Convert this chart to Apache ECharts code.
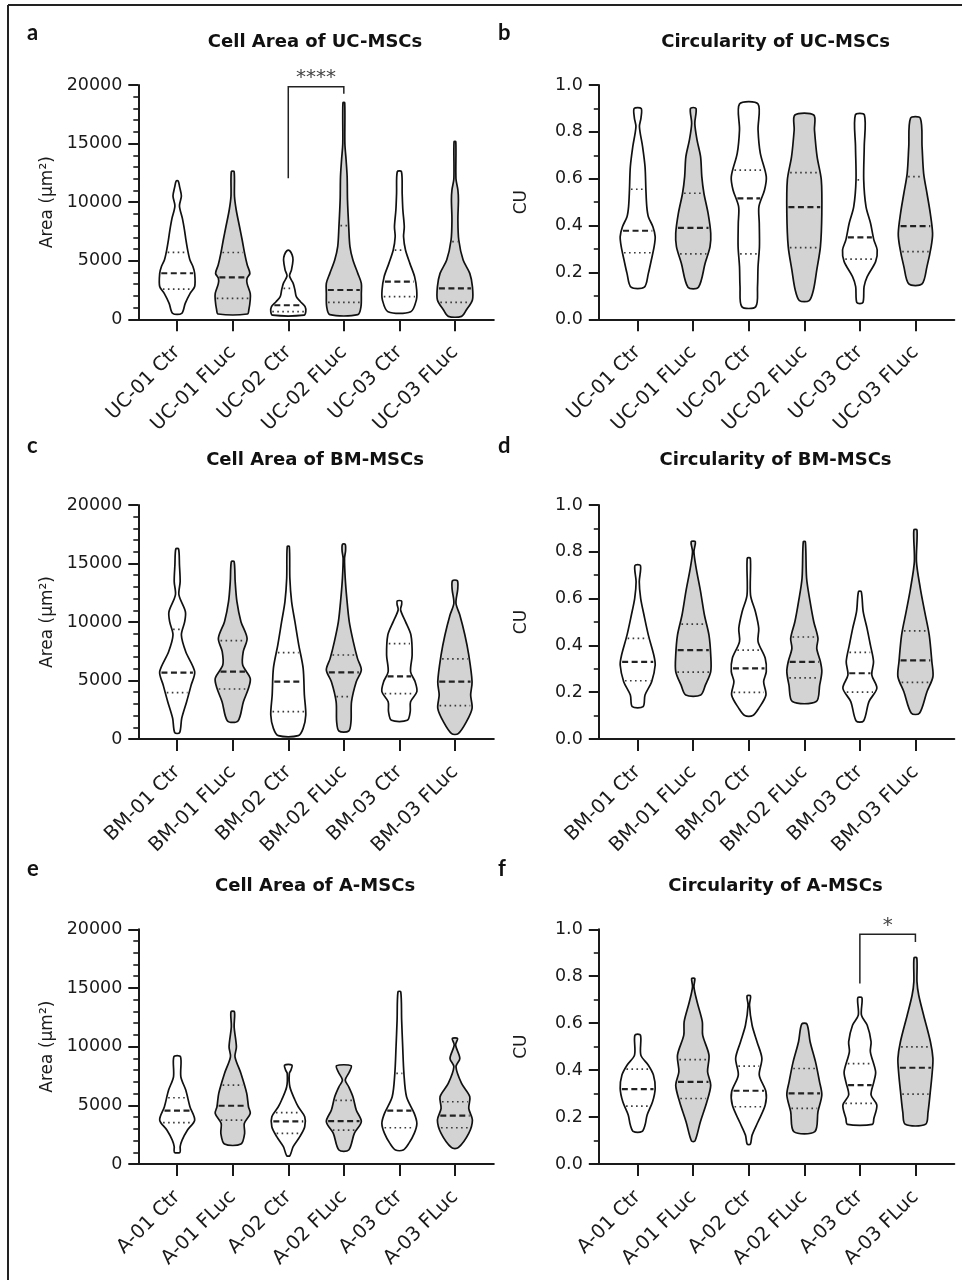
<!DOCTYPE html>
<html><head><meta charset="utf-8">
<script src="https://cdn.jsdelivr.net/npm/echarts@6/dist/echarts.min.js"></script>
<style>html,body{margin:0;padding:0;background:#fff}#c{width:962px;height:1280px}</style>
</head><body><div id="c"></div>
<script>
// ---------------- categories ----------------
const catsUC = ['UC-01 Ctr','UC-01 FLuc','UC-02 Ctr','UC-02 FLuc','UC-03 Ctr','UC-03 FLuc'];
const catsBM = ['BM-01 Ctr','BM-01 FLuc','BM-02 Ctr','BM-02 FLuc','BM-03 Ctr','BM-03 FLuc'];
const catsA  = ['A-01 Ctr','A-01 FLuc','A-02 Ctr','A-02 FLuc','A-03 Ctr','A-03 FLuc'];

// ---------------- violin profiles: [value, relative density width] min -> max ----------------
const ucAreaProfiles = [
  [[510,0.26],[1360,0.46],[2215,0.74],[2800,1.0],[3900,1.0],[4500,0.9],[5060,0.73],[5900,0.6],[6770,0.5],[7600,0.42],[8600,0.3],[9670,0.13],[10520,0.24],[11300,0.14],[11800,0.06]],
  [[450,0.84],[800,0.92],[1650,1.0],[2215,1.0],[3070,0.82],[3500,0.82],[3920,0.98],[4630,0.83],[5630,0.68],[6770,0.54],[7900,0.39],[9330,0.2],[10500,0.1],[12600,0.08]],
  [[350,0.9],[650,1.0],[1075,0.96],[1500,0.7],[1930,0.46],[2500,0.38],[3070,0.28],[3700,0.07],[4200,0.18],[5060,0.27],[5500,0.22],[5850,0.08]],
  [[400,0.8],[1075,0.98],[2215,1.0],[3070,1.0],[3920,0.8],[5060,0.52],[6200,0.35],[7900,0.28],[10180,0.21],[12170,0.19],[13600,0.13],[15000,0.06],[18490,0.05]],
  [[650,0.65],[1650,0.97],[2500,0.99],[3640,0.87],[4775,0.6],[5910,0.35],[7050,0.24],[7900,0.28],[9330,0.2],[10750,0.16],[12600,0.12]],
  [[250,0.38],[790,0.65],[1650,1.0],[2785,1.0],[3920,0.85],[5060,0.47],[6770,0.22],[8470,0.17],[10180,0.2],[11035,0.17],[12000,0.06],[15160,0.05]]
];
const ucAreaMedian = [3930, 3580, 1200, 2500, 3210, 2640];
const ucAreaQ1 = [2580, 1790, 650, 1445, 1930, 1450];
const ucAreaQ3 = [5715, 5700, 2640, 7990, 5910, 6625];

const ucCircProfiles = [
  [[0.137,0.38],[0.196,0.61],[0.253,0.78],[0.31,0.94],[0.353,1.0],[0.395,0.87],[0.438,0.61],[0.481,0.52],[0.552,0.47],[0.651,0.42],[0.737,0.28],[0.822,0.1],[0.86,0.19],[0.90,0.2]],
  [[0.137,0.3],[0.239,0.68],[0.31,0.96],[0.367,1.0],[0.452,0.85],[0.538,0.61],[0.609,0.49],[0.694,0.42],[0.765,0.22],[0.836,0.09],[0.90,0.16]],
  [[0.054,0.4],[0.139,0.5],[0.225,0.53],[0.31,0.61],[0.41,0.6],[0.481,0.58],[0.552,0.9],[0.609,1.0],[0.708,0.66],[0.808,0.53],[0.919,0.53]],
  [[0.08,0.28],[0.125,0.52],[0.21,0.71],[0.31,0.92],[0.452,1.0],[0.595,0.97],[0.694,0.73],[0.808,0.58],[0.872,0.54]],
  [[0.071,0.17],[0.139,0.24],[0.182,0.42],[0.246,0.9],[0.296,0.99],[0.339,0.8],[0.41,0.61],[0.481,0.35],[0.595,0.22],[0.737,0.25],[0.872,0.26]],
  [[0.151,0.38],[0.225,0.66],[0.31,0.9],[0.367,0.98],[0.452,0.85],[0.538,0.66],[0.623,0.47],[0.737,0.38],[0.858,0.28]]
];
const ucCircMedian = [0.378, 0.39, 0.516, 0.479, 0.35, 0.398];
const ucCircQ1 = [0.284, 0.279, 0.279, 0.306, 0.257, 0.289];
const ucCircQ3 = [0.555, 0.538, 0.637, 0.626, 0.595, 0.609];

const bmAreaProfiles = [
  [[540,0.14],[1770,0.26],[3190,0.54],[4615,0.8],[5750,1.0],[7460,0.49],[8890,0.24],[10030,0.43],[10880,0.47],[12310,0.1],[13450,0.17],[14870,0.13],[16240,0.08]],
  [[1540,0.3],[3190,0.61],[4330,0.9],[5185,1.0],[6320,0.57],[7460,0.6],[8600,0.82],[10030,0.47],[11740,0.24],[13450,0.14],[15160,0.08]],
  [[285,0.57],[910,0.85],[2050,1.0],[3760,0.92],[6040,0.85],[8030,0.6],[10030,0.38],[11740,0.19],[13730,0.09],[16440,0.06]],
  [[680,0.28],[1480,0.41],[3190,0.44],[4900,0.71],[5900,1.0],[6890,0.78],[8320,0.54],[10030,0.31],[12020,0.17],[13730,0.08],[15440,0.04],[16100,0.1],[16640,0.08]],
  [[1595,0.45],[2340,0.62],[3190,0.64],[4045,1.0],[4900,0.9],[5750,0.64],[7180,0.73],[8890,0.66],[10030,0.35],[11030,0.07],[11500,0.13],[11800,0.12]],
  [[455,0.19],[1480,0.66],[2620,0.98],[3760,0.9],[4900,0.98],[7180,0.79],[8890,0.57],[10600,0.28],[11600,0.06],[12800,0.16],[13530,0.14]]
];
const bmAreaMedian = [5670, 5755, 4900, 5700, 5355, 4900];
const bmAreaQ1 = [3960, 4275, 2340, 3620, 3875, 2850];
const bmAreaQ3 = [9370, 8405, 7380, 7180, 8150, 6840];

const bmCircProfiles = [
  [[0.138,0.31],[0.188,0.42],[0.245,0.8],[0.316,1.0],[0.359,0.92],[0.444,0.61],[0.53,0.36],[0.601,0.17],[0.672,0.09],[0.741,0.16]],
  [[0.188,0.43],[0.231,0.7],[0.288,1.0],[0.359,1.0],[0.444,0.9],[0.53,0.64],[0.63,0.42],[0.729,0.17],[0.8,0.04],[0.843,0.12]],
  [[0.1,0.23],[0.131,0.57],[0.188,0.98],[0.245,0.85],[0.288,1.0],[0.345,0.94],[0.416,0.53],[0.473,0.57],[0.544,0.38],[0.615,0.1],[0.772,0.09]],
  [[0.16,0.68],[0.231,0.88],[0.288,1.0],[0.33,0.92],[0.387,0.71],[0.43,0.78],[0.501,0.54],[0.587,0.33],[0.687,0.13],[0.843,0.06]],
  [[0.077,0.21],[0.16,0.52],[0.217,0.97],[0.274,0.68],[0.33,0.78],[0.402,0.6],[0.473,0.41],[0.544,0.19],[0.63,0.08]],
  [[0.11,0.23],[0.202,0.66],[0.266,1.0],[0.33,0.94],[0.444,0.79],[0.544,0.53],[0.644,0.28],[0.758,0.06],[0.893,0.09]]
];
const bmCircMedian = [0.33, 0.38, 0.302, 0.33, 0.281, 0.336];
const bmCircQ1 = [0.249, 0.286, 0.199, 0.261, 0.2, 0.242];
const bmCircQ3 = [0.43, 0.491, 0.38, 0.436, 0.37, 0.462];

const aAreaProfiles = [
  [[995,0.16],[1475,0.17],[2040,0.28],[2895,0.59],[3745,1.0],[4880,0.73],[6300,0.49],[7430,0.21],[9135,0.19]],
  [[1700,0.47],[2610,0.68],[3460,0.66],[4310,1.0],[4880,0.9],[6015,0.8],[7715,0.47],[9135,0.13],[9985,0.21],[11690,0.08],[12965,0.1]],
  [[710,0.09],[1475,0.28],[2330,0.66],[3180,0.94],[4030,0.94],[4880,0.57],[5450,0.38],[6580,0.09],[7715,0.06],[8000,0.15],[8425,0.21]],
  [[1190,0.28],[2610,0.6],[3600,1.0],[4600,0.71],[5730,0.52],[6580,0.28],[7150,0.08],[7800,0.3],[8370,0.42]],
  [[1190,0.22],[1760,0.54],[2610,0.85],[3460,1.0],[4310,0.85],[5730,0.41],[7715,0.26],[9985,0.19],[12260,0.13],[14670,0.08]],
  [[1390,0.19],[2610,0.79],[3745,1.0],[4740,0.79],[5730,0.85],[6865,0.38],[8285,0.06],[8995,0.28],[10130,0.04],[10695,0.15]]
];
const aAreaMedian = [4540, 4965, 3630, 3660, 4540, 4115];
const aAreaQ1 = [3520, 3745, 2610, 2895, 3090, 3090];
const aAreaQ3 = [5645, 6725, 4370, 5420, 7715, 5305];

const aCircProfiles = [
  [[0.138,0.24],[0.166,0.42],[0.209,0.54],[0.265,0.85],[0.322,1.0],[0.379,0.9],[0.421,0.61],[0.464,0.18],[0.549,0.16]],
  [[0.098,0.1],[0.18,0.41],[0.265,0.78],[0.336,1.0],[0.393,0.82],[0.464,0.9],[0.549,0.54],[0.606,0.52],[0.691,0.22],[0.755,0.04],[0.79,0.09]],
  [[0.085,0.09],[0.123,0.19],[0.18,0.53],[0.251,0.94],[0.308,0.98],[0.379,0.6],[0.45,0.75],[0.521,0.47],[0.591,0.19],[0.677,0.04],[0.716,0.1]],
  [[0.138,0.6],[0.223,0.78],[0.294,1.0],[0.35,0.87],[0.435,0.64],[0.521,0.33],[0.596,0.15]],
  [[0.169,0.71],[0.194,0.8],[0.251,0.97],[0.294,0.64],[0.35,0.8],[0.393,0.9],[0.478,0.6],[0.521,0.64],[0.591,0.42],[0.634,0.09],[0.708,0.12]],
  [[0.169,0.58],[0.22,0.72],[0.30,0.84],[0.39,0.96],[0.45,1.0],[0.52,0.86],[0.634,0.47],[0.719,0.19],[0.776,0.09],[0.878,0.08]]
];
const aCircMedian = [0.319, 0.35, 0.312, 0.301, 0.336, 0.41];
const aCircQ1 = [0.247, 0.279, 0.244, 0.237, 0.258, 0.298];
const aCircQ3 = [0.404, 0.445, 0.417, 0.407, 0.428, 0.499];

// significance brackets: [fromCat, toCat, barValue, leftLegEnd, rightLegEnd, labelValue, label]
const bracketUCArea = [2, 3, 19850, 12050, 19250, 20600, '****'];
const bracketACirc = [4, 5, 0.979, 0.769, 0.946, 1.013, '*'];

const titles = ['Cell Area of UC-MSCs','Circularity of UC-MSCs','Cell Area of BM-MSCs','Circularity of BM-MSCs','Cell Area of A-MSCs','Circularity of A-MSCs'];
const letters = ['a','b','c','d','e','f'];
const areaName = 'Area (μm²)';
const circName = 'CU';

// ---------------- layout (pixels) ----------------
const layout = [
  {left:138.3, top:85,    width:355.5, height:234.3, titleY:42.5, letterX:27,  letterY:32.7},
  {left:598.8, top:85,    width:355.5, height:234.3, titleY:42.5, letterX:498, letterY:32.7},
  {left:138.3, top:505,   width:355.5, height:234,   titleY:460.5,letterX:27,  letterY:446},
  {left:598.8, top:505,   width:355.5, height:234,   titleY:460.5,letterX:498, letterY:446},
  {left:138.3, top:929.3, width:355.5, height:234.7, titleY:886.5,letterX:27,  letterY:868.7},
  {left:598.8, top:929.3, width:355.5, height:234.7, titleY:886.5,letterX:498, letterY:868.7}
];

const panels = [
  {cats:catsUC, prof:ucAreaProfiles, med:ucAreaMedian, q1:ucAreaQ1, q3:ucAreaQ3, area:true,  br:bracketUCArea},
  {cats:catsUC, prof:ucCircProfiles, med:ucCircMedian, q1:ucCircQ1, q3:ucCircQ3, area:false, br:null},
  {cats:catsBM, prof:bmAreaProfiles, med:bmAreaMedian, q1:bmAreaQ1, q3:bmAreaQ3, area:true,  br:null},
  {cats:catsBM, prof:bmCircProfiles, med:bmCircMedian, q1:bmCircQ1, q3:bmCircQ3, area:false, br:null},
  {cats:catsA,  prof:aAreaProfiles,  med:aAreaMedian,  q1:aAreaQ1,  q3:aAreaQ3,  area:true,  br:null},
  {cats:catsA,  prof:aCircProfiles,  med:aCircMedian,  q1:aCircQ1,  q3:aCircQ3,  area:false, br:bracketACirc}
];

const HW = 0.315;           // max half width in category units
const FONT = 'DejaVu Sans';
const INK = '#1a1a1a';

function widthAt(prof, v){
  if (v <= prof[0][0]) return prof[0][1];
  for (let k = 1; k < prof.length; k++){
    if (v <= prof[k][0]){
      const a = prof[k-1], b = prof[k];
      const t = (v - a[0]) / (b[0] - a[0]);
      return a[1] + t * (b[1] - a[1]);
    }
  }
  return prof[prof.length-1][1];
}

function violinRenderer(P){
  return function(params, api){
    const i = params.dataIndex;
    const prof = P.prof[i];
    const right = prof.map(p => api.coord([i + HW*p[1], p[0]]));
    const left = prof.slice().reverse().map(p => api.coord([i - HW*p[1], p[0]]));
    const children = [{
      type:'polygon',
      shape:{points: right.concat(left), smooth:0.3},
      style:{fill: i % 2 ? '#d3d3d3' : '#ffffff', stroke:'#111', lineWidth:1.7}
    }];
    function hline(v, dash, lw, color){
      const w = widthAt(prof, v) * HW;
      const a = api.coord([i - w, v]), b = api.coord([i + w, v]);
      children.push({type:'line', shape:{x1:a[0]+1.5, y1:a[1], x2:b[0]-1.5, y2:b[1]},
        style:{stroke:color, lineWidth:lw, lineDash:dash}});
    }
    hline(P.q1[i], [1.6,3.4], 1.7, '#3a3a3a');
    hline(P.q3[i], [1.6,3.4], 1.7, '#3a3a3a');
    hline(P.med[i], [6,3.5], 2.2, '#222');
    return {type:'group', children};
  };
}

function bracketRenderer(b){
  return function(params, api){
    const p1 = api.coord([b[0], b[3]]), p2 = api.coord([b[0], b[2]]);
    const p3 = api.coord([b[1], b[2]]), p4 = api.coord([b[1], b[4]]);
    const t = api.coord([(b[0]+b[1])/2, b[5]]);
    return {type:'group', children:[
      {type:'polyline', shape:{points:[p1,p2,p3,p4]}, style:{stroke:'#222', lineWidth:1.5, fill:null}},
      {type:'text', x:t[0], y:t[1], style:{text:b[6], font:'20px '+FONT, fill:'#444', align:'center', verticalAlign:'middle'}}
    ]};
  };
}

const grid = [], xAxis = [], yAxis = [], series = [], graphic = [];
panels.forEach((P, k) => {
  const L = layout[k];
  grid.push({left:L.left, top:L.top, width:L.width, height:L.height, containLabel:false});
  xAxis.push({
    type:'value', gridIndex:k, min:-0.7, max:5.7,
    splitLine:{show:false},
    axisLine:{show:true, onZero:false, lineStyle:{color:INK, width:2}},
    axisTick:{show:true, customValues:[0,1,2,3,4,5], length:12, lineStyle:{color:INK, width:2}},
    axisLabel:{show:true, customValues:[0,1,2,3,4,5], rotate:45, margin:30,
      formatter:(v)=>P.cats[Math.round(v)], fontFamily:FONT, fontSize:19.5, color:INK}
  });
  yAxis.push({
    type:'value', gridIndex:k, min:0, max:P.area?20000:1, interval:P.area?5000:0.2,
    splitLine:{show:false},
    axisLine:{show:true, onZero:false, lineStyle:{color:INK, width:2}},
    axisTick:{show:true, length:10, lineStyle:{color:INK, width:2}},
    minorTick:{show:true, splitNumber:P.area?5:2, length:5, lineStyle:{color:INK, width:1.6}},
    minorSplitLine:{show:false},
    axisLabel:{margin:16, fontFamily:FONT, fontSize:17.5, color:INK,
      formatter:(v)=>P.area? String(v) : v.toFixed(1)}
  });
  series.push({
    type:'custom', xAxisIndex:k, yAxisIndex:k, clip:false,
    renderItem: violinRenderer(P),
    data:[[0],[1],[2],[3],[4],[5]], silent:true
  });
  if (P.br){
    series.push({type:'custom', xAxisIndex:k, yAxisIndex:k, clip:false,
      renderItem: bracketRenderer(P.br), data:[[0]], silent:true});
  }
  graphic.push({type:'text', x:L.left + L.width/2 - 1, y:L.titleY,
    style:{text:titles[k], font:'bold 18px '+FONT, fill:'#111', textAlign:'center', textVerticalAlign:'middle', align:'center', verticalAlign:'middle'}});
  graphic.push({type:'text', x:L.letterX, y:L.letterY,
    style:{text:letters[k], font:'bold 22px Lato', fill:'#111', textAlign:'left', textVerticalAlign:'middle', align:'left', verticalAlign:'middle'}});
  graphic.push({type:'text', x:L.left - (P.area?91:77), y:L.top + L.height/2, rotation:Math.PI/2,
    style:{text:P.area?areaName:circName, font:'17px '+FONT, fill:INK, textAlign:'center', textVerticalAlign:'middle', align:'center', verticalAlign:'middle'}});
});
// frame (top and left edges visible)
graphic.push({type:'line', shape:{x1:8, y1:5, x2:962, y2:5}, style:{stroke:'#222', lineWidth:2}});
graphic.push({type:'line', shape:{x1:8, y1:5, x2:8, y2:1280}, style:{stroke:'#222', lineWidth:2}});

const chart = echarts.init(document.getElementById('c'), null, {renderer:'canvas', width:962, height:1280});
chart.setOption({animation:false, backgroundColor:'#fff', grid, xAxis, yAxis, series, graphic});
</script></body></html>
